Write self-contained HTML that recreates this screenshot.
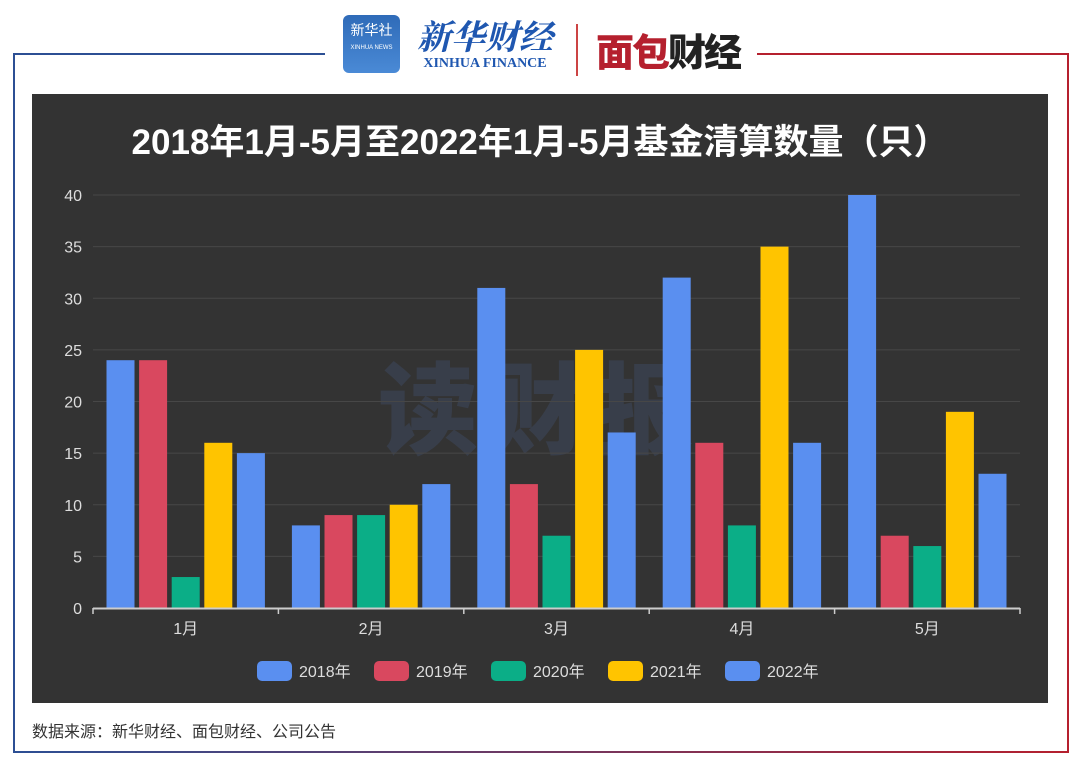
<!DOCTYPE html>
<html><head><meta charset="utf-8">
<style>
body{margin:0;width:1080px;height:768px;background:#fff;position:relative;overflow:hidden;font-family:"Liberation Sans","Noto Sans CJK SC",sans-serif}
.abs{position:absolute}
</style></head><body>
<div class="abs" style="left:13px;top:53px;width:2px;height:699px;background:#2c4f94"></div>
<div class="abs" style="left:13px;top:53px;width:312px;height:2px;background:#2c4f94"></div>
<div class="abs" style="left:757px;top:53px;width:312px;height:2px;background:#b5202e"></div>
<div class="abs" style="left:1067px;top:53px;width:2px;height:699px;background:#b5202e"></div>
<div class="abs" style="left:13px;top:751px;width:1056px;height:2px;background:linear-gradient(90deg,#2c4f94,#b5202e)"></div>
<div class="abs" style="left:343px;top:15px;width:57px;height:58px;border-radius:6px;background:linear-gradient(#2f6bb8,#4a8ad6);color:#fff;font-size:14px;text-align:center;line-height:30px">新华社<div style="font-size:6px;line-height:6px">XINHUA NEWS</div></div>
<div class="abs" style="left:415px;top:14px;width:140px;color:#1f57b0;text-align:center"><div style="font-size:34px;font-style:italic;font-weight:bold;line-height:42px;font-family:'Noto Serif CJK SC',serif">新华财经</div><div style="font-family:'Liberation Serif',serif;font-size:14px;font-weight:bold;line-height:16px">XINHUA FINANCE</div></div>
<div class="abs" style="left:576px;top:24px;width:2px;height:52px;background:#c44"></div>
<div class="abs" style="left:596px;top:22px;font-size:38px;font-weight:900;color:#b5202e;letter-spacing:-2px">面包<span style="color:#222">财经</span></div>
<div class="abs" style="left:32px;top:94px;width:1016px;height:609px;background:#333"></div>
<div class="abs" style="left:32px;top:114px;width:1016px;text-align:center;color:#fff;font-size:35px;font-weight:bold">2018年1月-5月至2022年1月-5月基金清算数量（只）</div>
<div class="abs" style="left:360px;top:330px;width:360px;text-align:center;color:rgba(70,90,130,0.3);font-size:100px;font-weight:900;letter-spacing:8px">读财报</div>
<svg class="abs" style="left:0;top:0" width="1080" height="768" id="chart"></svg>
<div class="abs" style="left:32px;top:718px;font-size:16px;color:#333">数据来源：新华财经、面包财经、公司公告</div>
<script>
const categories=["1月","2月","3月","4月","5月"];
const seriesNames=["2018年","2019年","2020年","2021年","2022年"];
const s2018=[24,8,31,32,40];
const s2019=[24,9,12,16,7];
const s2020=[3,9,7,8,6];
const s2021=[16,10,25,35,19];
const s2022=[15,12,17,16,13];
const yTicks=[0,5,10,15,20,25,30,35,40];
const colors=["#5a8ff0","#d9485f","#0bae87","#ffc400","#5a8ff0"];
const series=[s2018,s2019,s2020,s2021,s2022];
const NS="http://www.w3.org/2000/svg";
const svg=document.getElementById('chart');
const x0=93,x1=1020,yb=608,yt=195,ymax=40;
const bw=(x1-x0)/categories.length;
const y=v=>yb-(v/ymax)*(yb-yt);
const xc=i=>x0+bw*(i+0.5);
function mk(t,a){const e=document.createElementNS(NS,t);for(const k in a)e.setAttribute(k,a[k]);svg.appendChild(e);return e;}
yTicks.forEach(t=>{
 if(t>0){const g=mk('line',{x1:x0,x2:x1,y1:y(t),y2:y(t),stroke:'#474747','stroke-width':1});
 
 }
 const l=mk('text',{x:82,y:y(t)+6,'text-anchor':'end',fill:'#ddd','font-size':16});
 l.textContent=t;
 
 
});
categories.forEach((c,i)=>{
 series.forEach((s,j)=>{
  const cx=xc(i)+(j-2)*32.6;
  const r=mk('rect',{x:cx-14,y:y(s[i]),width:28,height:yb-y(s[i]),fill:colors[j]});
  
  
 });
 const t=mk('text',{x:xc(i),y:634,'text-anchor':'middle',fill:'#ddd','font-size':16});
 t.textContent=c;
 
 
});
const ax=mk('line',{x1:x0,x2:x1,y1:yb+0.5,y2:yb+0.5,stroke:'#ccc','stroke-width':2});


for(let i=0;i<=categories.length;i++){const tk=mk('line',{x1:x0+bw*i,x2:x0+bw*i,y1:yb,y2:yb+6,stroke:'#ccc','stroke-width':1.5});
 
 }
seriesNames.forEach((n,j)=>{
 const lx=257+j*117;
 const b=mk('rect',{x:lx,y:661,width:35,height:20,rx:5,fill:colors[j]});
 
 
 const t=mk('text',{x:lx+42,y:677,fill:'#ddd','font-size':16});
 t.textContent=n;
 
 
});
</script>
</body></html>
